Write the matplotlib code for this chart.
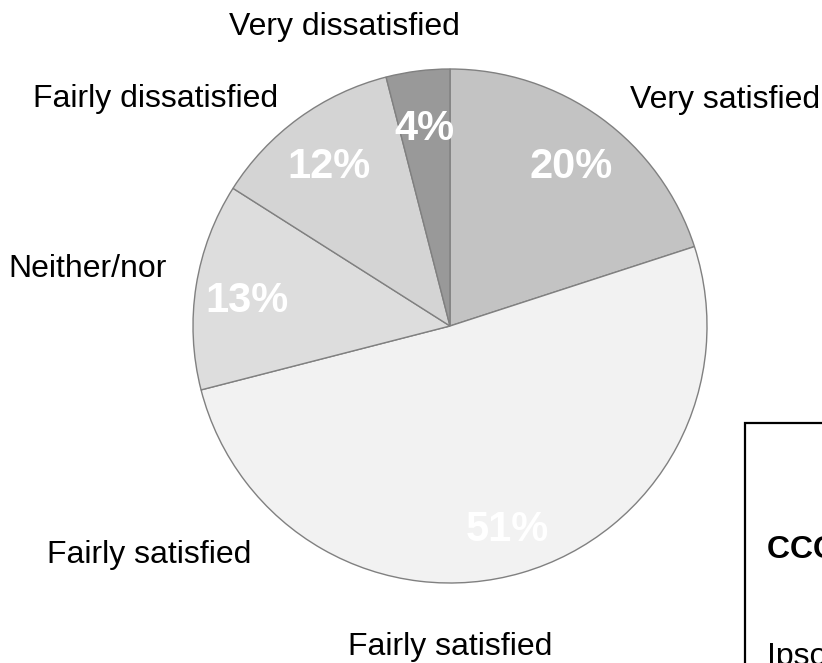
import matplotlib.pyplot as plt
from matplotlib.patches import Rectangle

plt.rcParams['font.family'] = ['Liberation Sans', 'DejaVu Sans']

categories = ['Very satisfied', 'Fairly satisfied', 'Neither/nor',
              'Fairly dissatisfied', 'Very dissatisfied']
shares = [20, 51, 13, 12, 4]
colors = ['#c3c3c3', '#f2f2f2', '#dddddd', '#d4d4d4', '#999999']

# outer labels (text, x px, baseline y px) as they sit in the picture
label_spots = [
    ('Very satisfied', 725, 108),
    ('Fairly satisfied', 149, 563),
    ('Neither/nor', 88, 277),
    ('Fairly dissatisfied', 156, 107),
    ('Very dissatisfied', 344, 35),
    ('Fairly satisfied', 450, 655),
]

W, H = 822, 663
CX, CY, R = 450, 326, 257

fig = plt.figure(figsize=(W / 100, H / 100), dpi=100)
ax = fig.add_axes([0, 0, 1, 1])
ax.axis('off')

wedges, texts, autotexts = ax.pie(
    shares, colors=colors, startangle=90, counterclock=False,
    autopct='%.0f%%', pctdistance=0.8, radius=1.0,
    wedgeprops=dict(edgecolor='#808080', linewidth=1.0),
    textprops=dict(color='white', fontsize=30, fontweight='bold'),
)
ax.set_xlim(-CX / R, (W - CX) / R)
ax.set_ylim((CY - H) / R, CY / R)

# nudge the percentages down a touch, they sit lower in the original
for t in autotexts:
    x, y = t.get_position()
    t.set_position((x, y - 7 / R))


def px(x, y):
    return (x - CX) / R, (CY - y) / R


for txt, x, y in label_spots:
    dx, dy = px(x, y)
    ax.text(dx, dy, txt, ha='center', va='baseline', fontsize=23, color='black')

# side box, running off the edge of the page
box = Rectangle((745 / W, 1 - 700 / H), 200 / W, 277 / H, transform=fig.transFigure,
                fill=False, edgecolor='black', linewidth=1.6, clip_on=False)
fig.patches.append(box)
fig.text(767 / W, 1 - 558 / H, 'CCG result', fontsize=23, fontweight='bold',
         ha='left', va='baseline')
fig.text(767 / W, 1 - 665 / H, 'Ipsos MORI GP Patient Survey', fontsize=23,
         ha='left', va='baseline')

fig.savefig('out.png', dpi=100)
